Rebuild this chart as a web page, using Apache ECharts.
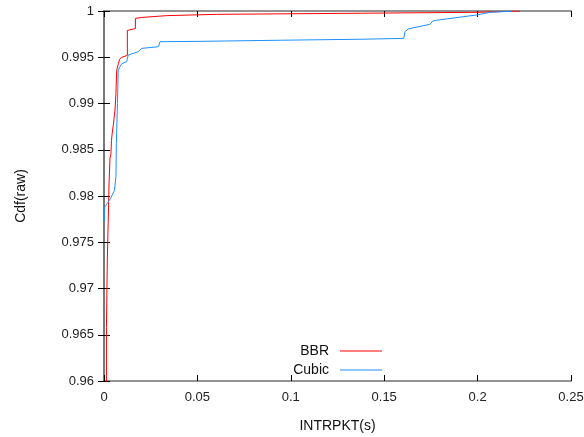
<!DOCTYPE html>
<html>
<head>
<meta charset="utf-8">
<script src="https://cdn.jsdelivr.net/npm/echarts@6/dist/echarts.min.js"></script>
<style>
  html, body { margin: 0; padding: 0; background: #fff; }
  #chart { width: 584px; height: 437px; }
</style>
</head>
<body>
<div id="chart"></div>
<script>
// CDF points, [interpacket time (s), cdf]
const bbrPoints = [
    [0.0013, 0.955], [0.0013, 0.9658], [0.0018, 0.9660], [0.0018, 0.9734],
    [0.0023, 0.9736], [0.0023, 0.9776], [0.0027, 0.9778], [0.0027, 0.9813],
    [0.0032, 0.9815], [0.0032, 0.9841], [0.0037, 0.9845], [0.0040, 0.9860],
    [0.0044, 0.9868], [0.0050, 0.9877], [0.0059, 0.9893], [0.0064, 0.9911],
    [0.0068, 0.9936], [0.0077, 0.9943], [0.0084, 0.9948], [0.0095, 0.9950],
    [0.0125, 0.9952], [0.0125, 0.9979], [0.0168, 0.9981], [0.0168, 0.9992],
    [0.0200, 0.9993], [0.0205, 0.9995], [0.0336, 0.9995], [0.0336, 0.99964],
    [0.0603, 0.99964], [0.0603, 0.99975], [0.138, 0.99976], [0.138, 0.99984],
    [0.2002, 0.99986], [0.2002, 0.99998], [0.2227, 1.0]
];
const cubicPoints = [
    [0.0002, 0.9772], [0.0004, 0.9788], [0.0017, 0.9792], [0.0034, 0.9797],
    [0.0056, 0.9806], [0.0064, 0.9821], [0.0066, 0.9857], [0.0068, 0.9871],
    [0.0072, 0.9900], [0.0076, 0.9936], [0.0086, 0.9940], [0.0095, 0.9943],
    [0.0121, 0.99452], [0.0130, 0.99524], [0.0139, 0.99542], [0.0184, 0.9956],
    [0.0202, 0.99596], [0.0291, 0.99614], [0.0300, 0.99668], [0.0514, 0.99672],
    [0.0514, 0.99682], [0.0951, 0.99684], [0.0951, 0.99693], [0.1387, 0.99695],
    [0.1387, 0.99702], [0.1605, 0.99704], [0.1611, 0.99776], [0.1628, 0.99805],
    [0.1655, 0.99818], [0.1745, 0.99856], [0.1760, 0.99892], [0.1780, 0.99900],
    [0.1995, 0.99957], [0.2013, 0.99964], [0.2067, 0.99986], [0.2129, 0.99993],
    [0.2183, 0.99996], [0.2183, 1.0]
];
const seriesNames = ['BBR', 'Cubic'];
const seriesColors = ['#ff0000', '#1e90ff'];

const chart = echarts.init(document.getElementById('chart'), null, { renderer: 'canvas' });

const font = 'Liberation Sans, Arial, sans-serif';
const frameLine = { show: true, lineStyle: { color: '#707070', width: 1.5 } };
const inTick = { show: true, inside: true, length: 6, lineStyle: { color: '#000', width: 1 } };
const tickLabel = { color: '#222', fontSize: 13, fontFamily: font };

chart.setOption({
    animation: false,
    backgroundColor: '#fff',
    grid: { left: 104, right: 13, top: 11, bottom: 56, outerBoundsMode: 'none' },
    legend: seriesNames.map((name, i) => ({
        data: [name],
        right: 202,
        top: 344 + i * 19,
        padding: 0,
        align: 'right',
        icon: 'rect',
        itemWidth: 42,
        itemHeight: 1,
        itemGap: 0,
        textStyle: { color: '#111', fontSize: 14, fontFamily: font, padding: [0, 6, 0, 0] },
    })),
    xAxis: [
        {
            type: 'value', min: 0, max: 0.25, interval: 0.05,
            name: 'INTRPKT(s)', nameLocation: 'middle', nameGap: 38,
            nameTextStyle: { color: '#111', fontSize: 14, fontFamily: font },
            axisLine: frameLine, axisTick: inTick,
            axisLabel: { ...tickLabel, margin: 10 },
            splitLine: { show: false },
        },
        {
            type: 'value', position: 'top', min: 0, max: 0.25, interval: 0.05,
            axisLine: frameLine, axisTick: inTick, axisLabel: { show: false },
            splitLine: { show: false },
        },
    ],
    yAxis: [
        {
            type: 'value', min: 0.96, max: 1, interval: 0.005,
            name: 'Cdf(raw)', nameLocation: 'middle', nameGap: 76,
            nameTextStyle: { color: '#111', fontSize: 14, fontFamily: font },
            axisLine: frameLine, axisTick: inTick,
            axisLabel: { ...tickLabel, margin: 10 },
            splitLine: { show: false },
        },
        {
            type: 'value', position: 'right', min: 0.96, max: 1, interval: 0.005,
            axisLine: frameLine, axisTick: inTick, axisLabel: { show: false },
            splitLine: { show: false },
        },
    ],
    series: [
        {
            name: seriesNames[0], type: 'line', data: bbrPoints,
            showSymbol: false, color: seriesColors[0],
            lineStyle: { color: seriesColors[0], width: 1 },
        },
        {
            name: seriesNames[1], type: 'line', data: cubicPoints,
            showSymbol: false, color: seriesColors[1],
            lineStyle: { color: seriesColors[1], width: 1 },
        },
    ],
});
</script>
</body>
</html>
